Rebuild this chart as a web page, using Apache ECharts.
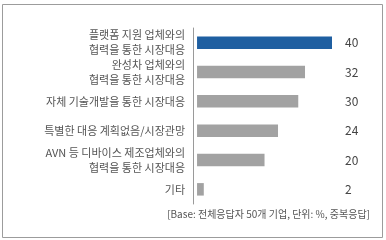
<!DOCTYPE html>
<html><head><meta charset="utf-8">
<script src="https://cdn.jsdelivr.net/npm/echarts@6/dist/echarts.min.js"></script>
<style>html,body{margin:0;padding:0;background:#fff}#c{width:386px;height:240px}</style>
</head><body><div id="c"></div>
<script>
const categories = [
  "플랫폼 지원 업체와의\n협력을 통한 시장대응",
  "완성차 업체와의\n협력을 통한 시장대응",
  "자체 기술개발을 통한 시장대응",
  "특별한 대응 계획없음/시장관망",
  "AVN 등 디바이스 제조업체와의\n협력을 통한 시장대응",
  "기타"
];
const values = [40, 32, 30, 24, 20, 2];
const highlightIndex = 0;
const footnote = "[Base: 전체응답자 50개 기업, 단위: %, 중복응답]";

const font = "'Noto Sans CJK KR', 'Noto Sans', sans-serif";
const chart = echarts.init(document.getElementById('c'), null, {renderer: 'canvas'});
chart.setOption({
  animation: false,
  backgroundColor: '#fff',
  grid: {left: 193, top: 28, width: 139, height: 176, containLabel: false},
  xAxis: {type: 'value', min: -1.2, max: 40, show: false},
  yAxis: [{
    type: 'category', data: categories, inverse: true,
    axisLine: {show: true, onZero: false, lineStyle: {color: '#9a9a9a', width: 1}},
    axisTick: {show: false},
    axisLabel: {interval: 0, hideOverlap: false, margin: 8, fontSize: 11, lineHeight: 15, color: '#555', fontFamily: font, align: 'right'}
  }, {
    type: 'category', data: values.map(String), inverse: true, position: 'right',
    axisLine: {show: false}, axisTick: {show: false},
    axisLabel: {interval: 0, margin: 13, fontSize: 12, color: '#444', fontFamily: font, align: 'left'}
  }],
  series: [{
    type: 'bar', barWidth: 12.5,
    data: values.map((v, i) => ({value: v, itemStyle: {color: i === highlightIndex ? '#1f5fa1' : '#a2a2a2'}}))
  }],
  graphic: [
    {type: 'rect', shape: {x: 2.5, y: 4.5, width: 380, height: 233}, style: {fill: 'none', stroke: '#9c9c9c', lineWidth: 1}},
    {type: 'text', right: 16, top: 209, style: {text: footnote, fontSize: 10, fill: '#555', fontFamily: font}}
  ]
});
</script></body></html>
